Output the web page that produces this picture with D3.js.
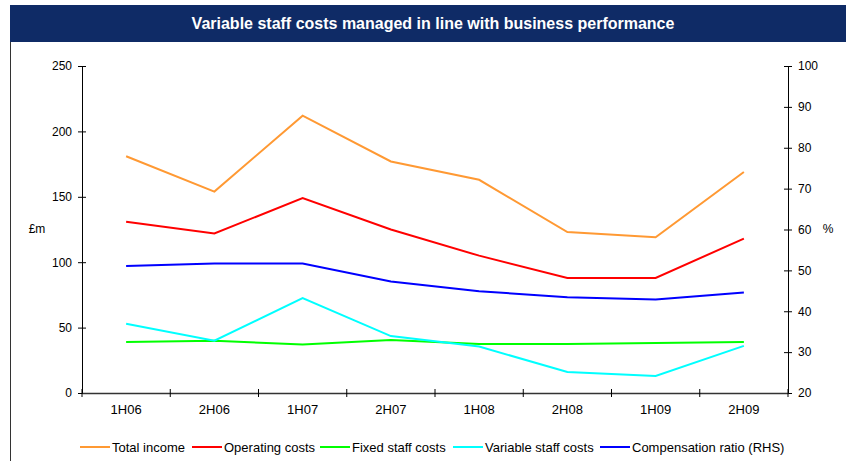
<!DOCTYPE html>
<html lang="en">
<head>
    <meta charset="UTF-8">
    <title>Variable staff costs managed in line with business performance</title>
    <style>
        body {
            margin: 0;
            background-color: #ffffff;
            font-family: "Liberation Sans", Arial, sans-serif;
        }
        svg text {
            fill: #000;
        }
    </style>
</head>
<body>
    <svg id="chart"></svg>

    <script src="https://d3js.org/d3.v7.min.js"></script>
    <script>
        // Half-year periods
        const periods = ['1H06', '2H06', '1H07', '2H07', '1H08', '2H08', '1H09', '2H09'];

        // £m series (left axis)
        const totalIncome = [181, 154, 212, 177, 163, 123, 119, 169];
        const operatingCosts = [131, 122, 149, 125, 105, 88, 88, 118];
        const fixedStaffCosts = [39, 40, 37, 40.5, 37.5, 37.5, 38.2, 39];
        const variableStaffCosts = [53, 40, 72.5, 43.5, 35.5, 16, 13, 36];

        // % series (right axis)
        const compensationRatio = [51.1, 51.7, 51.7, 47.3, 44.9, 43.4, 42.9, 44.6];

        const leftTicks = [0, 50, 100, 150, 200, 250];
        const rightTicks = [20, 30, 40, 50, 60, 70, 80, 90, 100];

        const series = [
            { name: 'Total income', values: totalIncome, color: '#ff9933', axis: 'left' },
            { name: 'Operating costs', values: operatingCosts, color: '#ff0000', axis: 'left' },
            { name: 'Fixed staff costs', values: fixedStaffCosts, color: '#00ff00', axis: 'left' },
            { name: 'Variable staff costs', values: variableStaffCosts, color: '#00ffff', axis: 'left' },
            { name: 'Compensation ratio (RHS)', values: compensationRatio, color: '#0000ff', axis: 'right' }
        ];

        const width = 846;
        const height = 461;
        const plot = { left: 82, right: 788, top: 66, bottom: 393 };

        const svg = d3.select('#chart')
            .attr('width', width)
            .attr('height', height);

        // Title banner and frame
        svg.append('rect')
            .attr('x', 10).attr('y', 5)
            .attr('width', width - 10).attr('height', 37)
            .attr('fill', '#0f2b66');

        svg.append('text')
            .attr('x', 433).attr('y', 23)
            .attr('text-anchor', 'middle')
            .attr('dy', '0.35em')
            .style('font-size', '16px')
            .style('font-weight', 'bold')
            .style('fill', '#ffffff')
            .text('Variable staff costs managed in line with business performance');

        svg.append('line')
            .attr('x1', 10.5).attr('x2', 10.5)
            .attr('y1', 42).attr('y2', height)
            .attr('stroke', '#333').attr('stroke-width', 1);

        // Scales
        const x = d3.scaleBand()
            .domain(periods)
            .range([plot.left, plot.right]);

        const yLeft = d3.scaleLinear()
            .domain([0, 250])
            .range([plot.bottom, plot.top]);

        const yRight = d3.scaleLinear()
            .domain([20, 100])
            .range([plot.bottom, plot.top]);

        // Axes
        const leftAxis = svg.append('g')
            .attr('transform', `translate(${plot.left},0)`)
            .call(d3.axisLeft(yLeft).tickValues(leftTicks).tickSize(4).tickPadding(6));
        leftAxis.selectAll('.tick line').attr('x2', 4).attr('x1', -4);

        const rightAxis = svg.append('g')
            .attr('transform', `translate(${plot.right},0)`)
            .call(d3.axisRight(yRight).tickValues(rightTicks).tickSize(4).tickPadding(6));
        rightAxis.selectAll('.tick line').attr('x1', -4).attr('x2', 4);

        // x axis with ticks at band boundaries
        const xAxis = svg.append('g')
            .attr('transform', `translate(0,${plot.bottom})`)
            .call(d3.axisBottom(x).tickSize(0).tickPadding(12));

        const boundaries = periods.map(p => x(p)).concat([x.range()[1]]);
        xAxis.selectAll('.boundary')
            .data(boundaries)
            .enter()
            .append('line')
            .attr('class', 'boundary')
            .attr('x1', d => d).attr('x2', d => d)
            .attr('y1', -4).attr('y2', 4)
            .attr('stroke', '#000');

        [leftAxis, rightAxis, xAxis].forEach(g => {
            g.selectAll('text')
                .style('font-size', '12px')
                .style('font-family', '"Liberation Sans", Arial, sans-serif');
            g.selectAll('.domain').attr('stroke', '#000');
            g.selectAll('.tick line').attr('stroke', '#000');
        });
        xAxis.selectAll('text').style('font-size', '13px');
        xAxis.select('.domain').attr('stroke', '#333').attr('stroke-width', 1.5);

        // Axis unit labels
        svg.append('text')
            .attr('x', 37).attr('y', 229)
            .attr('text-anchor', 'middle')
            .attr('dy', '0.35em')
            .style('font-size', '12px')
            .text('£m');

        svg.append('text')
            .attr('x', 828).attr('y', 229)
            .attr('text-anchor', 'middle')
            .attr('dy', '0.35em')
            .style('font-size', '12px')
            .text('%');

        // Lines
        series.forEach(s => {
            const yScale = s.axis === 'left' ? yLeft : yRight;
            const line = d3.line()
                .x((d, i) => x(periods[i]) + x.bandwidth() / 2)
                .y(d => yScale(d));
            svg.append('path')
                .datum(s.values)
                .attr('fill', 'none')
                .attr('stroke', s.color)
                .attr('stroke-width', 2)
                .attr('d', line);
        });

        // Legend
        const legendX = [80, 192, 320, 453, 600];
        const legend = svg.selectAll('.legend-item')
            .data(series)
            .enter()
            .append('g')
            .attr('class', 'legend-item')
            .attr('transform', (d, i) => `translate(${legendX[i]},447)`);

        legend.append('line')
            .attr('x1', 0).attr('x2', 30)
            .attr('stroke', d => d.color)
            .attr('stroke-width', 2);

        legend.append('text')
            .attr('x', 32)
            .attr('dy', '0.35em')
            .style('font-size', '13px')
            .text(d => d.name);
    </script>
</body>
</html>
